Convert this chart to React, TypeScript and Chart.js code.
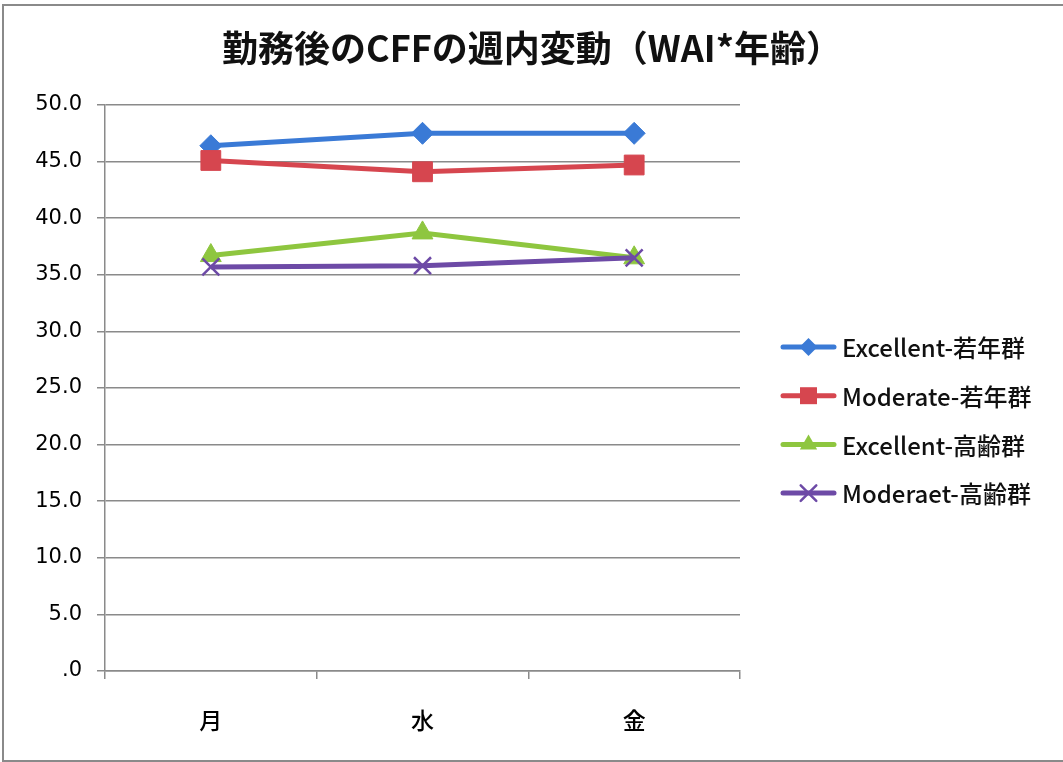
import React, { useEffect, useRef } from 'react';
import { Chart, registerables } from 'chart.js';

Chart.register(...registerables);

const titleText = '勤務後のCFFの週内変動（WAI*年齢）';
const categories = ['月', '水', '金'];
const seriesNames = ['Excellent-若年群', 'Moderate-若年群', 'Excellent-高齢群', 'Moderaet-高齢群'];
const excellentYoung = [46.4, 47.5, 47.5];
const moderateYoung = [45.1, 44.1, 44.7];
const excellentOld = [36.7, 38.7, 36.5];
const moderateOld = [35.7, 35.8, 36.5];
const seriesColors = ['#3a7ad6', '#d6464f', '#8ec63f', '#6d4aa6'];
const pointStyles = ['rectRot', 'rect', 'triangle', 'crossRot'];
const pointRadii = [11, 14, 12, 12];
const yMin = 0;
const yMax = 50;
const yStep = 5;

const W = 1063;
const H = 762;

function drawMarker(ctx: CanvasRenderingContext2D, style: string, x: number, y: number, r: number, color: string) {
  ctx.save();
  ctx.fillStyle = color;
  ctx.strokeStyle = color;
  ctx.beginPath();
  if (style === 'rectRot') {
    ctx.moveTo(x - r, y);
    ctx.lineTo(x, y - r);
    ctx.lineTo(x + r, y);
    ctx.lineTo(x, y + r);
    ctx.closePath();
    ctx.fill();
  } else if (style === 'rect') {
    const s = r * Math.SQRT1_2;
    ctx.rect(x - s, y - s, 2 * s, 2 * s);
    ctx.fill();
  } else if (style === 'triangle') {
    let a = 0;
    ctx.moveTo(x + Math.sin(a) * r, y - Math.cos(a) * r);
    a += (2 * Math.PI) / 3;
    ctx.lineTo(x + Math.sin(a) * r, y - Math.cos(a) * r);
    a += (2 * Math.PI) / 3;
    ctx.lineTo(x + Math.sin(a) * r, y - Math.cos(a) * r);
    ctx.closePath();
    ctx.fill();
  } else if (style === 'crossRot') {
    const o = r * Math.SQRT1_2;
    ctx.lineWidth = 2.5;
    ctx.moveTo(x - o, y - o);
    ctx.lineTo(x + o, y + o);
    ctx.moveTo(x + o, y - o);
    ctx.lineTo(x - o, y + o);
    ctx.stroke();
  }
  ctx.restore();
}

const decorPlugin = {
  id: 'decor',
  beforeDraw(chart: any) {
    const ctx = chart.ctx as CanvasRenderingContext2D;
    ctx.save();
    ctx.fillStyle = '#ffffff';
    ctx.fillRect(0, 0, W, H);
    ctx.strokeStyle = '#8a8a8a';
    ctx.lineWidth = 2;
    ctx.strokeRect(3, 5, W + 10, H - 6);
    ctx.restore();
  },
  afterDraw(chart: any) {
    const ctx = chart.ctx as CanvasRenderingContext2D;
    ctx.save();
    ctx.fillStyle = '#111111';
    ctx.font = 'bold 36px "Noto Sans CJK JP"';
    ctx.textAlign = 'center';
    ctx.textBaseline = 'middle';
    ctx.fillText(titleText, 532, 48);

    // legend
    ctx.font = '500 24px "Noto Sans CJK JP"';
    ctx.textAlign = 'left';
    ctx.textBaseline = 'middle';
    const legendR = [9, 12, 10, 11];
    seriesNames.forEach((name, i) => {
      const y = 347 + i * 48.7;
      ctx.strokeStyle = seriesColors[i];
      ctx.lineWidth = 5;
      ctx.lineCap = 'round';
      ctx.beginPath();
      ctx.moveTo(783, y);
      ctx.lineTo(834, y);
      ctx.stroke();
      drawMarker(ctx, pointStyles[i], 808.5, y, legendR[i], seriesColors[i]);
      ctx.fillStyle = '#111111';
      ctx.fillText(name, 842, y + 1);
    });
    ctx.restore();
  },
};

export default function App() {
  const ref = useRef<HTMLCanvasElement | null>(null);

  useEffect(() => {
    document.body.style.margin = '0';
    const canvas = ref.current;
    if (!canvas) return;
    const seriesData = [excellentYoung, moderateYoung, excellentOld, moderateOld];
    const chart = new Chart(canvas, {
      type: 'line',
      data: {
        labels: categories,
        datasets: seriesData.map((d, i) => ({
          label: seriesNames[i],
          data: d,
          borderColor: seriesColors[i],
          backgroundColor: seriesColors[i],
          borderWidth: 5,
          pointStyle: pointStyles[i] as any,
          pointRadius: pointRadii[i],
          pointBorderWidth: i === 3 ? 2.5 : 1,
          pointBackgroundColor: seriesColors[i],
          pointBorderColor: seriesColors[i],
          tension: 0,
          order: 3 - i,
        })),
      },
      options: {
        responsive: false,
        animation: false,
        devicePixelRatio: 1,
        layout: { padding: { top: 105, left: 0, right: 323, bottom: 0 } },
        plugins: {
          legend: { display: false },
          title: { display: false },
          tooltip: { enabled: false },
        },
        scales: {
          x: {
            type: 'category',
            offset: true,
            grid: {
              offset: true,
              drawOnChartArea: false,
              drawTicks: true,
              tickLength: 8,
              color: '#8a8a8a',
              lineWidth: 1.5,
            },
            border: { display: true, color: '#8a8a8a', width: 1.5 },
            ticks: {
              padding: 27,
              color: '#000000',
              font: { family: '"Noto Sans CJK JP"', size: 23, weight: '500' as any },
            },
            afterFit: (scale: any) => {
              scale.height = 91;
            },
          },
          y: {
            min: yMin,
            max: yMax,
            grid: {
              color: '#8a8a8a',
              lineWidth: 1.5,
              drawTicks: true,
              tickLength: 8,
            },
            border: { display: true, color: '#8a8a8a', width: 1.5 },
            ticks: {
              stepSize: yStep,
              padding: 15,
              color: '#000000',
              font: { family: '"DejaVu Sans"', size: 21 },
              callback: (v: any) => (Number(v) === 0 ? '.0' : Number(v).toFixed(1)),
            },
            afterFit: (scale: any) => {
              scale.width = 105;
            },
          },
        },
      },
      plugins: [decorPlugin],
    });
    return () => chart.destroy();
  }, []);

  return (
    <div style={{ position: 'fixed', left: 0, top: 0, width: W, height: H }}>
      <canvas ref={ref} width={W} height={H} style={{ width: W, height: H, display: 'block' }} />
    </div>
  );
}
